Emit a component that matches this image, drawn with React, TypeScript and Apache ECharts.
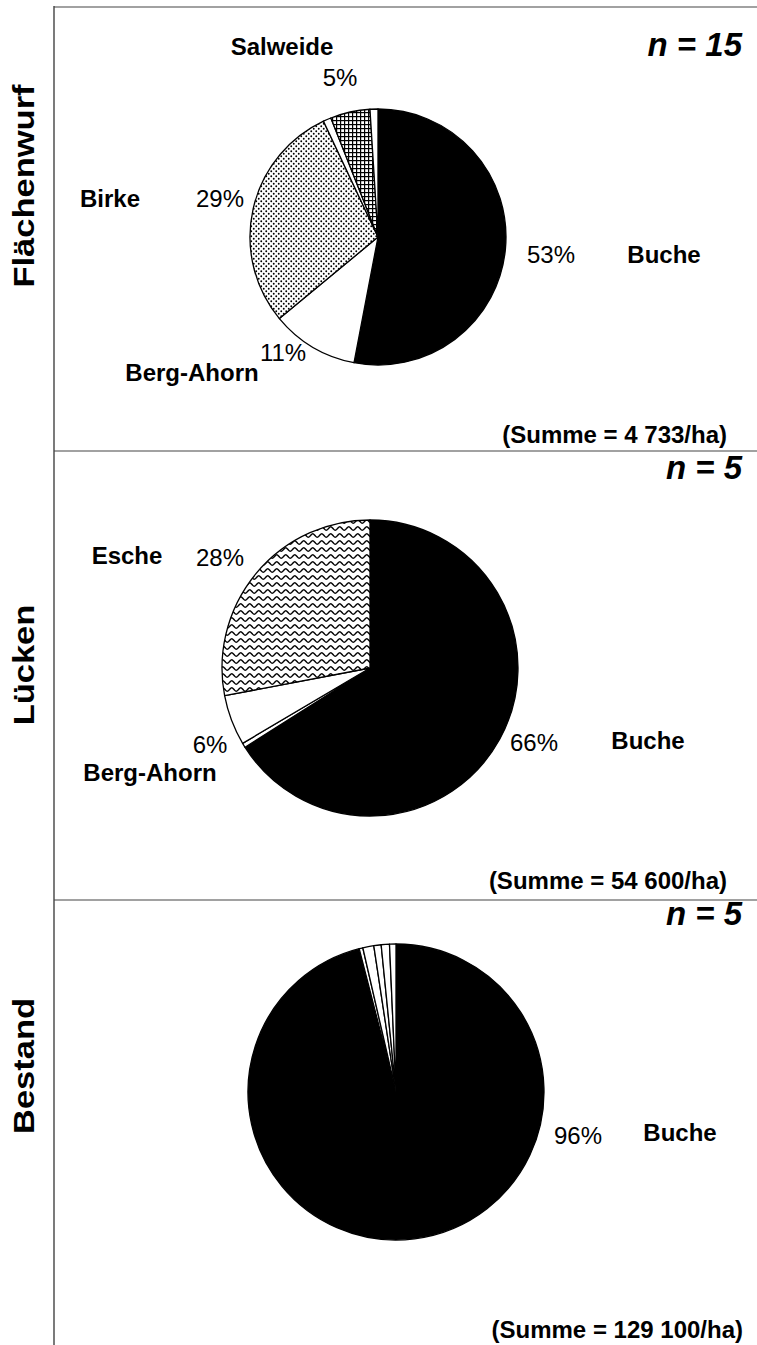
import React, { useEffect, useRef } from 'react';
import * as echarts from 'echarts';

const W = 757;
const H = 1345;

// ---- data ----
const panelTitles = ['Flächenwurf', 'Lücken', 'Bestand'];
const nLabels = ['n = 15', 'n = 5', 'n = 5'];
const sumLabels = ['(Summe = 4 733/ha)', '(Summe = 54 600/ha)', '(Summe = 129 100/ha)'];

// Panel 1 (Flächenwurf), clockwise from 12 o'clock
const p1Names = ['Buche', 'Berg-Ahorn', 'Birke', 'Sonstige 1', 'Salweide', 'Sonstige 2'];
const p1Values = [53, 11, 29, 1, 5, 1];
const p1Fills = ['black', 'white', 'dots', 'white', 'grid', 'white'];

// Panel 2 (Lücken)
const p2Names = ['Buche', 'Sonstige', 'Berg-Ahorn', 'Esche'];
const p2Values = [66, 0.5, 5.5, 28];
const p2Fills = ['black', 'white', 'white', 'wave'];

// Panel 3 (Bestand)
const p3Names = ['Buche', 'Sonstige 1', 'Sonstige 2', 'Sonstige 3', 'Sonstige 4', 'Sonstige 5'];
const p3Values = [96, 0.4, 1.2, 0.8, 0.9, 0.7];
const p3Fills = ['black', 'white', 'white', 'white', 'white', 'white'];

// labels: [species name, percent text]
const p1Labels = [['Salweide', '5%'], ['Birke', '29%'], ['Buche', '53%'], ['Berg-Ahorn', '11%']];
const p2Labels = [['Esche', '28%'], ['Berg-Ahorn', '6%'], ['Buche', '66%']];
const p3Labels = [['Buche', '96%']];

// ---- layout (positions only) ----
const pieGeom = [
  { cx: 378, cy: 237, r: 128 },
  { cx: 370, cy: 668, r: 148 },
  { cx: 396, cy: 1092, r: 148 },
];
const p1Pos = [[[282, 46], [340, 77]], [[110, 198], [220, 198]], [[664, 254], [551, 254]], [[192, 372], [283, 352]]];
const p2Pos = [[[127, 555], [220, 557]], [[150, 772], [210, 744]], [[648, 740], [534, 742]]];
const p3Pos = [[[680, 1132], [578, 1135]]];
const titleY = [186, 665, 1066];
const nY = [44, 467, 913];
const sumY = [434, 880, 1329];
const sumRight = [727, 727, 743];
const hLines = [7, 451, 900];

const FONT = '"Liberation Sans", Arial, Helvetica, sans-serif';

function makeCanvas(w: number, h: number, draw: (ctx: CanvasRenderingContext2D) => void) {
  const c = document.createElement('canvas');
  c.width = w;
  c.height = h;
  const ctx = c.getContext('2d') as CanvasRenderingContext2D;
  ctx.fillStyle = '#fff';
  ctx.fillRect(0, 0, w, h);
  draw(ctx);
  return c;
}

function buildFills() {
  const dots = makeCanvas(5, 5, (ctx) => {
    ctx.fillStyle = '#000';
    ctx.beginPath();
    ctx.arc(1.25, 1.25, 0.95, 0, Math.PI * 2);
    ctx.fill();
    ctx.beginPath();
    ctx.arc(3.75, 3.75, 0.95, 0, Math.PI * 2);
    ctx.fill();
  });
  const grid = makeCanvas(4, 4, (ctx) => {
    ctx.fillStyle = '#000';
    ctx.fillRect(0, 0, 4, 1.2);
    ctx.fillRect(0, 0, 1.2, 4);
  });
  const wave = makeCanvas(9, 7, (ctx) => {
    ctx.strokeStyle = '#000';
    ctx.lineWidth = 1.4;
    ctx.beginPath();
    for (let x = -1; x <= 10; x += 0.25) {
      const y = 3.5 + 1.7 * Math.sin((2 * Math.PI * x) / 9);
      if (x === -1) ctx.moveTo(x, y);
      else ctx.lineTo(x, y);
    }
    ctx.stroke();
  });
  return {
    black: '#000',
    white: '#fff',
    dots: { image: dots, repeat: 'repeat', imageWidth: 5, imageHeight: 5 },
    grid: { image: grid, repeat: 'repeat', imageWidth: 4, imageHeight: 4 },
    wave: { image: wave, repeat: 'repeat', imageWidth: 9, imageHeight: 7 },
  } as Record<string, any>;
}

export default function App() {
  const ref = useRef<HTMLDivElement>(null);

  useEffect(() => {
    document.body.style.margin = '0';
    if (!ref.current) return;
    const chart = echarts.init(ref.current, null, { renderer: 'svg' });
    const fills = buildFills();

    const mkSeries = (names: string[], values: number[], fk: string[], g: { cx: number; cy: number; r: number }) => ({
      type: 'pie',
      center: [g.cx, g.cy],
      radius: g.r,
      startAngle: 90,
      clockwise: true,
      silent: true,
      avoidLabelOverlap: false,
      label: { show: false },
      labelLine: { show: false },
      emphasis: { disabled: true },
      data: values.map((v, i) => ({
        value: v,
        name: names[i],
        itemStyle: { color: fills[fk[i]], borderColor: '#000', borderWidth: 1.3 },
      })),
    });

    const graphics: any[] = [];
    graphics.push({
      type: 'line',
      shape: { x1: 54, y1: 6, x2: 54, y2: H },
      style: { stroke: '#222', lineWidth: 1.2 },
    });
    hLines.forEach((y) =>
      graphics.push({
        type: 'line',
        shape: { x1: 54, y1: y, x2: W, y2: y },
        style: { stroke: '#444', lineWidth: 1.2 },
      })
    );
    panelTitles.forEach((t, i) => {
      graphics.push({
        type: 'text',
        x: 24,
        y: titleY[i],
        rotation: Math.PI / 2,
        scaleX: 1.15,
        style: { text: t, font: `bold 30px ${FONT}`, fill: '#000', textAlign: 'center', textVerticalAlign: 'middle' },
      });
      graphics.push({
        type: 'text',
        x: 742,
        y: nY[i],
        style: { text: nLabels[i], font: `italic bold 33px ${FONT}`, fill: '#000', textAlign: 'right', textVerticalAlign: 'middle' },
      });
      graphics.push({
        type: 'text',
        x: sumRight[i],
        y: sumY[i],
        style: { text: sumLabels[i], font: `bold 24px ${FONT}`, fill: '#000', textAlign: 'right', textVerticalAlign: 'middle' },
      });
    });
    const addLabels = (labels: string[][], pos: number[][][]) => {
      labels.forEach((l, i) => {
        graphics.push({
          type: 'text',
          x: pos[i][0][0],
          y: pos[i][0][1],
          style: { text: l[0], font: `bold 24px ${FONT}`, fill: '#000', textAlign: 'center', textVerticalAlign: 'middle' },
        });
        graphics.push({
          type: 'text',
          x: pos[i][1][0],
          y: pos[i][1][1],
          style: { text: l[1], font: `24px ${FONT}`, fill: '#000', textAlign: 'center', textVerticalAlign: 'middle' },
        });
      });
    };
    addLabels(p1Labels, p1Pos);
    addLabels(p2Labels, p2Pos);
    addLabels(p3Labels, p3Pos);

    chart.setOption({
      animation: false,
      backgroundColor: '#fff',
      textStyle: { fontFamily: FONT },
      series: [
        mkSeries(p1Names, p1Values, p1Fills, pieGeom[0]),
        mkSeries(p2Names, p2Values, p2Fills, pieGeom[1]),
        mkSeries(p3Names, p3Values, p3Fills, pieGeom[2]),
      ],
      graphic: graphics,
    });
    return () => chart.dispose();
  }, []);

  return <div ref={ref} style={{ width: W, height: H }} />;
}
